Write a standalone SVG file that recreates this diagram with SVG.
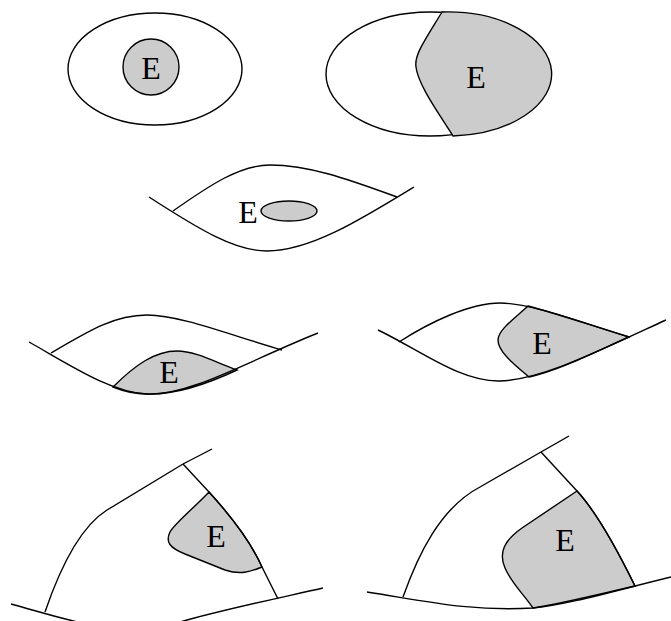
<svg xmlns="http://www.w3.org/2000/svg" width="671" height="621" viewBox="0 0 671 621">
<style>
.ln{fill:none;stroke:#000;stroke-width:1.4}
.sh{fill:#cccccc;stroke:#000;stroke-width:1.4}
.wh{fill:#fff;stroke:#000;stroke-width:1.4}
.lb{font-family:"Liberation Serif","Times New Roman",serif;font-size:32px;text-anchor:middle;fill:#000}
</style>
<rect width="671" height="621" fill="#fff"/>
<g id="panel1">
<ellipse class="wh" cx="155" cy="69" rx="87" ry="56"/>
<circle class="sh" cx="151" cy="67" r="28"/>
<text class="lb" x="151" y="79">E</text>
</g>
<g id="panel2">
<ellipse class="wh" cx="430" cy="74" rx="104" ry="62"/>
<path class="sh" d="M442,12 C425,40 414,55 416,67 C418,85 440,115 453,136 A104,62 0 0 0 442,12 Z"/>
<text class="lb" x="476" y="88">E</text>
</g>
<g id="panel3">
<path class="ln" d="M149,197 C200,230 235,251 267,251 C310,251 360,220 414,187"/>
<path class="ln" d="M173,211 C210,185 240,165 270,165 C310,165 350,180 397,197"/>
<ellipse class="sh" cx="289" cy="211" rx="28" ry="10"/>
<text class="lb" x="248" y="223">E</text>
</g>
<g id="panel4">
<path class="sh" d="M113,387 C135,365 155,351 177,351 C195,351 215,362 237,370 C205,385 175,395 147,394 C135,394 123,391 113,387 Z"/>
<path class="ln" d="M29,342 C70,365 110,392 147,394 C190,396 250,360 318,333"/>
<path class="ln" d="M51,353 C90,330 115,315 147,315 C180,315 230,335 282,350"/>
<text class="lb" x="169" y="383">E</text>
</g>
<g id="panel5">
<path class="sh" d="M528,306 C515,318 498,330 498,340 C498,352 515,365 529,377 C560,370 595,352 629,337 C590,325 555,313 528,306 Z"/>
<path class="ln" d="M378,330 C420,350 460,382 500,381 C540,380 590,355 666,320"/>
<path class="ln" d="M399,342 C430,322 470,303 500,303 C530,303 580,322 629,337"/>
<text class="lb" x="542" y="354">E</text>
</g>
<g id="panel6">
<path class="sh" d="M209,492 C195,507 175,523 170,532 C165,542 170,548 185,554 L225,570 C240,575 250,572 262,567 C250,540 230,515 209,492 Z"/>
<path class="ln" d="M11,604 C70,620 120,640 180,622 C222,610 270,600 323,588"/>
<path class="ln" d="M183,464 L212,449"/>
<path class="ln" d="M45,612 C60,568 80,527 107,510 L183,464"/>
<path class="ln" d="M183,464 L209,492 C230,515 250,540 262,567 L278,599"/>
<text class="lb" x="216" y="547">E</text>
</g>
<g id="panel7">
<path class="sh" d="M577,491 L522,528 C505,540 498,552 505,568 C512,584 522,592 533,608 C560,604 600,594 635,586 C610,535 590,505 577,491 Z"/>
<path class="ln" d="M367,592 C420,600 470,612 533,608 C570,604 610,592 671,577"/>
<path class="ln" d="M541,452 L569,436"/>
<path class="ln" d="M403,597 C418,555 440,508 480,487 L541,452"/>
<path class="ln" d="M541,452 L577,491 C590,505 610,535 635,586"/>
<text class="lb" x="565" y="551">E</text>
</g>
</svg>
